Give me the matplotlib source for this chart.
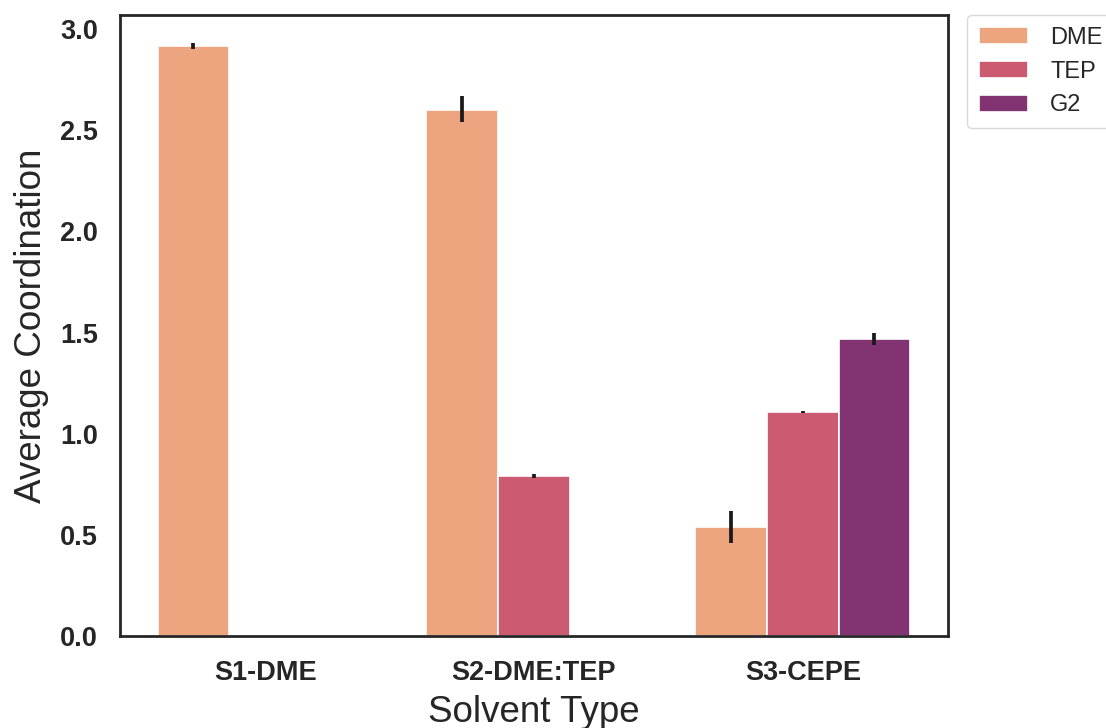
import numpy as np
import matplotlib
matplotlib.use('Agg')
import matplotlib.pyplot as plt
import seaborn as sns

sns.set_style('white')
plt.rcParams['font.family'] = ['Liberation Sans', 'DejaVu Sans']

#---------data------------------------------------
solvents = ['S1-DME', 'S2-DME:TEP', 'S3-CEPE']
species = ['DME', 'TEP', 'G2']
colors = ['#eca57e', '#cc5b72', '#813471']

# mean coordination per solvent (nan = species not present)
dme_mean = [2.915, 2.60, 0.54]
tep_mean = [np.nan, 0.79, 1.105]
g2_mean = [np.nan, np.nan, 1.468]

# error bar lower / upper ends
dme_lo = [2.90, 2.54, 0.46]
dme_hi = [2.93, 2.67, 0.62]
tep_lo = [np.nan, 0.78, 1.10]
tep_hi = [np.nan, 0.80, 1.11]
g2_lo = [np.nan, np.nan, 1.44]
g2_hi = [np.nan, np.nan, 1.50]

#-------------------------------------------------
means = [dme_mean, tep_mean, g2_mean]
los = [dme_lo, tep_lo, g2_lo]
his = [dme_hi, tep_hi, g2_hi]

fig = plt.figure(figsize=(11.06, 7.28), dpi=100)
ax = fig.add_axes([0.1085, 0.1264, 0.7486, 0.853])

x = np.arange(len(solvents))
w = 0.8 / len(species)
for i, sp in enumerate(species):
    pos = x + (i - 1) * w
    m = np.array(means[i])
    ok = ~np.isnan(m)
    ax.bar(pos[ok], m[ok], width=w, color=colors[i], edgecolor='white',
           linewidth=1.2, label=sp)
    ax.vlines(pos[ok], np.array(los[i])[ok], np.array(his[i])[ok],
              color='#1a1a1a', linewidth=2.7, zorder=3)

ax.set_xlim(-0.54, 2.54)
ax.set_ylim(0, 3.07)
ax.set_yticks([0, 0.5, 1.0, 1.5, 2.0, 2.5, 3.0])
ax.set_xticks(x)
ax.set_xticklabels(solvents)
for lab in ax.get_xticklabels() + ax.get_yticklabels():
    lab.set_fontweight('bold')
    lab.set_fontsize(19.5)
    lab.set_color('#262626')
ax.tick_params(axis='x', pad=14)
ax.tick_params(axis='y', pad=12.5)

ax.set_xlabel('Solvent Type', fontsize=26.5, color='#262626', labelpad=6)
ax.set_ylabel('Average Coordination', fontsize=26.5, color='#262626', labelpad=8)

for s in ax.spines.values():
    s.set_linewidth(2)
    s.set_color('#262626')

ax.legend(loc='upper left', bbox_to_anchor=(1.023, 1.0), borderaxespad=0,
          fontsize=17, frameon=True, edgecolor='#d0d0d0', handlelength=2.1,
          handleheight=0.75, handletextpad=0.93, borderpad=0.5,
          labelspacing=0.5)

plt.savefig('out.png', dpi=100)
